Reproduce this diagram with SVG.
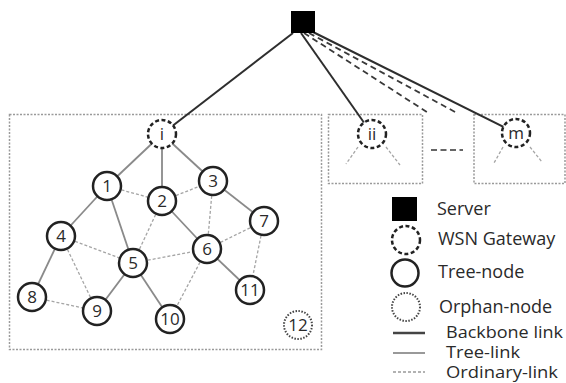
<svg xmlns="http://www.w3.org/2000/svg" width="566" height="383" viewBox="0 0 566 383">
<style>
text{font-family:"Open Sans","Noto Sans","DejaVu Sans",sans-serif;fill:#2a2a2a}
.lbl{font-size:17px;text-anchor:middle}
.leg{font-size:18px}
.legs{font-size:16px}
.box{fill:none;stroke:#9a9a9a;stroke-width:1.5;stroke-dasharray:2 1.5}
.bb{stroke:#2e2e2e;stroke-width:2;fill:none}
.bbd{stroke:#3a3a3a;stroke-width:1.8;stroke-dasharray:6 4;fill:none}
.tl{stroke:#8a8a8a;stroke-width:1.8;fill:none}
.ol{stroke:#a5a5a5;stroke-width:1.3;stroke-dasharray:3 2;fill:none}
.gw{fill:#fff;stroke:#222;stroke-width:2.5;stroke-dasharray:4 2.5}
.tn{fill:#fff;stroke:#222;stroke-width:2.5}
.on{fill:#fff;stroke:#444;stroke-width:2;stroke-dasharray:1.5 1.5}
</style>
<g id="boxes">
<rect class="box" x="9.5" y="114.5" width="312" height="235"/>
<rect class="box" x="328.5" y="114.5" width="94" height="69"/>
<rect class="box" x="474" y="114.5" width="91" height="69"/>
<line x1="431" y1="150" x2="463" y2="150" stroke="#666" stroke-width="2" stroke-dasharray="6 3.5"/>
</g>
<g id="connectors">
<line class="bb" x1="293" y1="33" x2="162" y2="134"/>
<line class="bb" x1="301" y1="33" x2="372" y2="134"/>
<line class="bbd" x1="304" y1="33" x2="430" y2="114"/>
<line class="bbd" x1="309" y1="33" x2="457" y2="113"/>
<line class="bb" x1="313" y1="32" x2="516" y2="133"/>
<line class="ol" x1="358" y1="147" x2="346" y2="164"/>
<line class="ol" x1="386" y1="147" x2="400" y2="165"/>
<line class="ol" x1="503" y1="147" x2="494" y2="163"/>
<line class="ol" x1="530" y1="147" x2="542" y2="162"/>
<line class="tl" x1="162" y1="134" x2="107" y2="186"/>
<line class="tl" x1="162" y1="134" x2="162" y2="201"/>
<line class="tl" x1="162" y1="134" x2="213" y2="181"/>
<line class="tl" x1="107" y1="186" x2="61" y2="236"/>
<line class="tl" x1="107" y1="186" x2="133" y2="263"/>
<line class="tl" x1="61" y1="236" x2="32" y2="297"/>
<line class="tl" x1="162" y1="201" x2="207" y2="249"/>
<line class="tl" x1="213" y1="181" x2="264" y2="221"/>
<line class="tl" x1="133" y1="263" x2="97" y2="311"/>
<line class="tl" x1="133" y1="263" x2="170" y2="319"/>
<line class="tl" x1="207" y1="249" x2="250" y2="290"/>
<line class="ol" x1="107" y1="186" x2="162" y2="201"/>
<line class="ol" x1="162" y1="201" x2="213" y2="181"/>
<line class="ol" x1="162" y1="201" x2="133" y2="263"/>
<line class="ol" x1="213" y1="181" x2="207" y2="249"/>
<line class="ol" x1="61" y1="236" x2="133" y2="263"/>
<line class="ol" x1="61" y1="236" x2="97" y2="311"/>
<line class="ol" x1="133" y1="263" x2="207" y2="249"/>
<line class="ol" x1="207" y1="249" x2="264" y2="221"/>
<line class="ol" x1="264" y1="221" x2="250" y2="290"/>
<line class="ol" x1="32" y1="297" x2="97" y2="311"/>
<line class="ol" x1="207" y1="249" x2="170" y2="319"/>
</g>
<g id="server"><rect x="291" y="11" width="24" height="22" fill="#000"/></g>
<g id="gw-i"><circle class="gw" cx="162" cy="134" r="14"/><text class="lbl" x="162" y="140">i</text></g>
<g id="gw-ii"><circle class="gw" cx="372" cy="134" r="14"/><text class="lbl" x="372" y="140">ii</text></g>
<g id="gw-m"><circle class="gw" cx="516" cy="133" r="14"/><text class="lbl" x="516" y="139">m</text></g>
<g id="n1"><circle class="tn" cx="107" cy="186" r="14"/><text class="lbl" x="107" y="192">1</text></g>
<g id="n2"><circle class="tn" cx="162" cy="201" r="14"/><text class="lbl" x="162" y="207">2</text></g>
<g id="n3"><circle class="tn" cx="213" cy="181" r="14"/><text class="lbl" x="213" y="187">3</text></g>
<g id="n4"><circle class="tn" cx="61" cy="236" r="14"/><text class="lbl" x="61" y="242">4</text></g>
<g id="n5"><circle class="tn" cx="133" cy="263" r="14"/><text class="lbl" x="133" y="269">5</text></g>
<g id="n6"><circle class="tn" cx="207" cy="249" r="14"/><text class="lbl" x="207" y="255">6</text></g>
<g id="n7"><circle class="tn" cx="264" cy="221" r="14"/><text class="lbl" x="264" y="227">7</text></g>
<g id="n8"><circle class="tn" cx="32" cy="297" r="14"/><text class="lbl" x="32" y="303">8</text></g>
<g id="n9"><circle class="tn" cx="97" cy="311" r="14"/><text class="lbl" x="97" y="317">9</text></g>
<g id="n10"><circle class="tn" cx="170" cy="319" r="14"/><text class="lbl" x="170" y="325">10</text></g>
<g id="n11"><circle class="tn" cx="250" cy="290" r="14"/><text class="lbl" x="250" y="296">11</text></g>
<g id="n12"><circle class="on" cx="298" cy="325" r="14"/><text class="lbl" x="298" y="331">12</text></g>
<g id="legend">
<rect x="392" y="197" width="25" height="24" fill="#000"/>
<text class="leg" x="437" y="215">Server</text>
<circle class="gw" cx="406" cy="240" r="14"/>
<text class="leg" x="438" y="245">WSN Gateway</text>
<circle class="tn" cx="405" cy="273" r="13.5"/>
<text class="leg" x="438" y="278">Tree-node</text>
<circle class="on" cx="406" cy="307" r="14"/>
<text class="leg" x="439" y="313">Orphan-node</text>
<line x1="393" y1="333" x2="425" y2="333" stroke="#444" stroke-width="2.5"/>
<text class="legs" x="446" y="338" textLength="117" lengthAdjust="spacingAndGlyphs">Backbone link</text>
<line x1="393" y1="353" x2="425" y2="353" stroke="#999" stroke-width="2"/>
<text class="legs" x="446" y="358" textLength="74" lengthAdjust="spacingAndGlyphs">Tree-link</text>
<line x1="393" y1="372" x2="425" y2="372" stroke="#999" stroke-width="1.3" stroke-dasharray="3 2"/>
<text class="legs" x="446" y="378" textLength="112" lengthAdjust="spacingAndGlyphs">Ordinary-link</text>
</g>
</svg>
